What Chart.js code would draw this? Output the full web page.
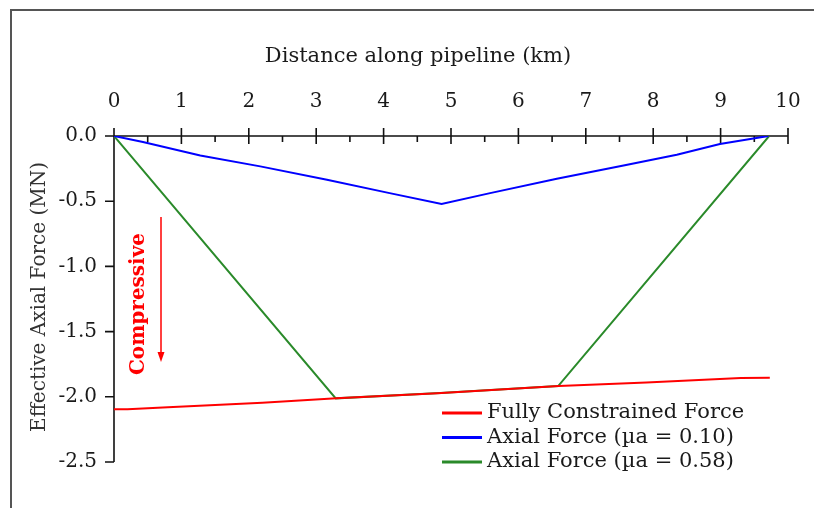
<!DOCTYPE html>
<html>
<head>
<meta charset="utf-8">
<script src="https://cdn.jsdelivr.net/npm/chart.js@4"></script>
<style>
  html, body { margin: 0; padding: 0; background: #fff; }
  #wrap { position: relative; width: 814px; height: 508px; }
  #wrap canvas { position: absolute; left: 0; top: 0; }
  #frame { position: absolute; left: 10px; top: 9px; right: 0; bottom: 0;
           border-top: 2px solid #555; border-left: 2px solid #555; pointer-events: none; }
</style>
</head>
<body>
<div id="wrap">
  <canvas id="chart" width="814" height="508"></canvas>
  <div id="frame"></div>
</div>
<script>
// --- Daten ---
const seriesLabels = ["Fully Constrained Force", "Axial Force (\u00b5a = 0.10)", "Axial Force (\u00b5a = 0.58)"];

const fullyX = [0, 0.2, 0.8, 2.2, 3.3, 4.8, 6.6, 7.9, 9.3, 9.73];
const fullyY = [-2.095, -2.095, -2.08, -2.045, -2.012, -1.972, -1.918, -1.89, -1.855, -1.853];

const mu010X = [0, 0.43, 1.28, 2.17, 3.16, 4.09, 4.86, 5.58, 6.57, 7.56, 8.35, 8.99, 9.71];
const mu010Y = [0, -0.046, -0.149, -0.233, -0.336, -0.438, -0.522, -0.438, -0.328, -0.226, -0.144, -0.061, 0];

const mu058X = [0, 3.29, 4.84, 6.59, 9.72];
const mu058Y = [0, -2.012, -1.97, -1.918, 0];

const xMajor = [0, 1, 2, 3, 4, 5, 6, 7, 8, 9, 10];
const yMajor = [0, -0.5, -1.0, -1.5, -2.0, -2.5];

const SERIF = '"DejaVu Serif", serif';
const pts = (xs, ys) => xs.map((x, i) => ({x, y: ys[i]}));

// --- Achsen, Titel, Legende, Pfeil ---
const decoPlugin = {
  id: 'decoPlugin',
  beforeDatasetsDraw(chart) {
    const {ctx, chartArea: a, scales: {x, y}} = chart;
    ctx.save();
    ctx.strokeStyle = '#111';
    ctx.lineWidth = 1.6;
    ctx.beginPath();
    ctx.moveTo(a.left, a.top); ctx.lineTo(a.right, a.top);
    ctx.moveTo(a.left, a.top); ctx.lineTo(a.left, a.bottom);
    xMajor.forEach(v => {
      const px = x.getPixelForValue(v);
      ctx.moveTo(px, a.top - 8); ctx.lineTo(px, a.top + 8);
      if (v < 10) {
        const mx = x.getPixelForValue(v + 0.5);
        ctx.moveTo(mx, a.top); ctx.lineTo(mx, a.top + 6);
      }
    });
    yMajor.forEach(v => {
      const py = y.getPixelForValue(v);
      ctx.moveTo(a.left - 9, py); ctx.lineTo(a.left, py);
    });
    ctx.stroke();
    ctx.restore();
  },
  afterDraw(chart) {
    const {ctx} = chart;
    ctx.save();
    // Achsentitel
    ctx.fillStyle = '#1a1a1a';
    ctx.font = `21px ${SERIF}`;
    ctx.textAlign = 'center';
    ctx.textBaseline = 'middle';
    ctx.fillText('Distance along pipeline (km)', 418, 57);
    ctx.save();
    ctx.translate(40, 297);
    ctx.rotate(-Math.PI / 2);
    ctx.fillStyle = '#333';
    ctx.font = `20px ${SERIF}`;
    ctx.fillText('Effective Axial Force (MN)', 0, 0);
    ctx.restore();

    // "Compressive" + Pfeil
    ctx.save();
    ctx.translate(139, 304);
    ctx.rotate(-Math.PI / 2);
    ctx.fillStyle = '#ff0000';
    ctx.font = `bold 20px ${SERIF}`;
    ctx.fillText('Compressive', 0, 0);
    ctx.restore();
    ctx.strokeStyle = '#ff0000';
    ctx.fillStyle = '#ff0000';
    ctx.lineWidth = 1.5;
    ctx.beginPath();
    ctx.moveTo(161, 217); ctx.lineTo(161, 354);
    ctx.stroke();
    ctx.beginPath();
    ctx.moveTo(157.5, 352); ctx.lineTo(164.5, 352); ctx.lineTo(161, 362);
    ctx.closePath();
    ctx.fill();

    // Legende
    ctx.font = `21px ${SERIF}`;
    ctx.textAlign = 'left';
    chart.data.datasets.forEach((ds, i) => {
      const ly = 413 + i * 24.5;
      ctx.strokeStyle = ds.borderColor;
      ctx.lineWidth = 3;
      ctx.beginPath();
      ctx.moveTo(442, ly); ctx.lineTo(482, ly);
      ctx.stroke();
      ctx.fillStyle = '#1a1a1a';
      ctx.fillText(ds.label, 487, ly);
    });
    ctx.restore();
  }
};

new Chart(document.getElementById('chart'), {
  type: 'line',
  data: {
    datasets: [
      { label: seriesLabels[0], data: pts(fullyX, fullyY), borderColor: '#ff0000' },
      { label: seriesLabels[1], data: pts(mu010X, mu010Y), borderColor: '#0000ff' },
      { label: seriesLabels[2], data: pts(mu058X, mu058Y), borderColor: '#2a8a2a' }
    ]
  },
  options: {
    responsive: false,
    animation: false,
    devicePixelRatio: 1,
    layout: { padding: { left: 0, top: 0, right: 26, bottom: 46 } },
    elements: {
      line: { borderWidth: 2, tension: 0, fill: false },
      point: { radius: 0 }
    },
    plugins: { legend: { display: false }, tooltip: { enabled: false } },
    scales: {
      x: {
        type: 'linear', position: 'top', min: 0, max: 10,
        grid: { display: false, drawTicks: false },
        border: { display: false },
        ticks: { stepSize: 1, padding: 22, color: '#1a1a1a', font: { family: SERIF, size: 20 } },
        afterFit: s => { s.height = 136; s.paddingLeft = 0; s.paddingRight = 0; }
      },
      y: {
        type: 'linear', min: -2.5, max: 0,
        grid: { display: false, drawTicks: false },
        border: { display: false },
        ticks: { stepSize: 0.5, padding: 17, color: '#1a1a1a', font: { family: SERIF, size: 20 },
                 callback: v => v.toFixed(1) },
        afterFit: s => { s.width = 114; s.paddingTop = 0; s.paddingBottom = 0; }
      }
    }
  },
  plugins: [decoPlugin]
});
</script>
</body>
</html>
